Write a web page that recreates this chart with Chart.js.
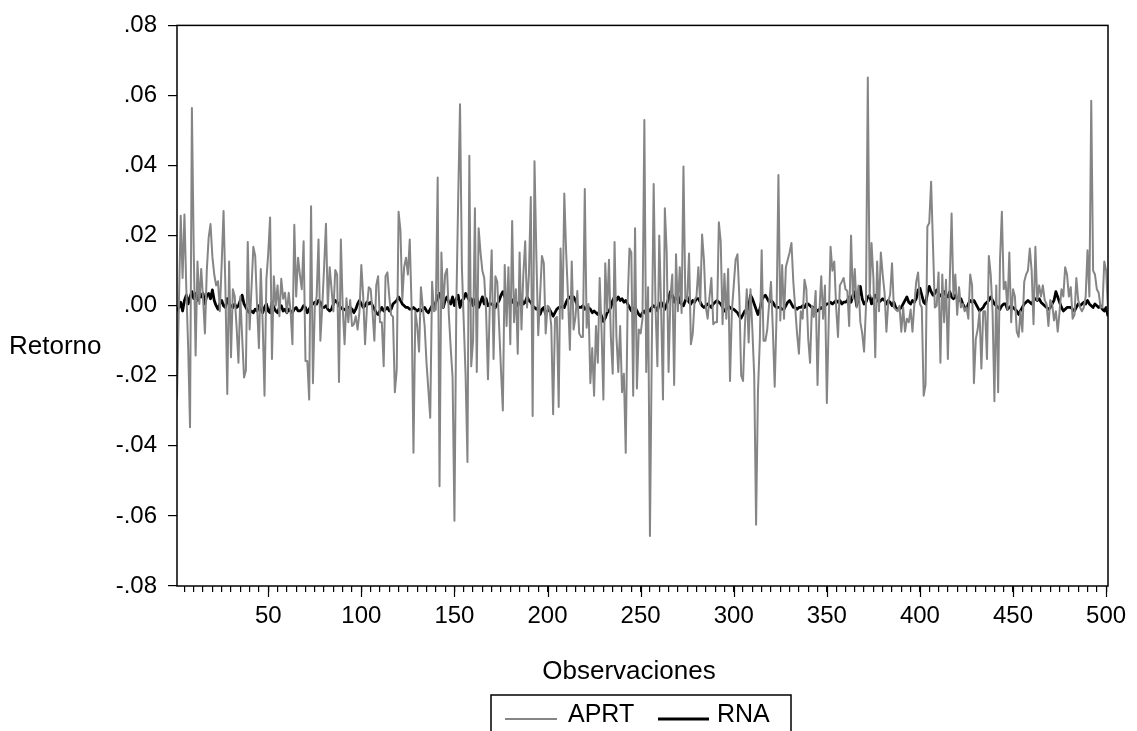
<!DOCTYPE html>
<html>
<head>
<meta charset="utf-8">
<script src="https://cdn.jsdelivr.net/npm/chart.js@4.4.1/dist/chart.umd.min.js"></script>
<style>
  html, body { margin: 0; padding: 0; background: #fff; }
  canvas { display: block; }
</style>
</head>
<body>
<canvas id="grafico" width="1137" height="731"></canvas>
<script>
// numero de observacion 1..501
var observaciones = [];
for (var i = 1; i <= 501; i++) observaciones.push(i);

// retornos, en milesimas (x 1000)
var aprt = [
  -26.8, 0, 25.7, 7.9, 26.0, 5, -12, -34.7, 56.4, 15,
  -14.2, 12.6, 0.5, 10.5, 2, -7.9, 10.0, 19.4, 23.3, 14,
  8.9, 5.8, 7.0, -1.6, 12, 27.0, 5, -25.2, 12.6, -14.7,
  4.7, 2.6, -6, -16.3, 2.6, -9, -20.5, -18.4, 18.2, -6.8,
  5, 16.8, 14.2, 0, -12.1, 10.5, -4.7, -25.7, 7.4, 15,
  25.2, -15.2, 8.4, 0, 5.8, -3, 7.7, 2, 3.7, -2,
  3.7, -1.6, -11.0, 23.1, 2.6, 13.7, 8.9, 4.7, 18.4, -15.8,
  -15.8, -26.8, 28.4, -22.1, -0.5, 2.6, 18.9, -10.0, -0.5, 11.0,
  23.4, -0.5, 11.0, 4.7, -1.6, 10.2, 8.9, -21.8, 18.9, -0.5,
  -11.0, 2.1, -4.7, 1.6, -5.8, -5.3, -3.0, -6.8, -1.6, 11.6,
  2.6, -11.0, -0.5, 5.3, 4.7, -1.6, -10.0, 5.8, 8.4, -4.7,
  -4.7, -17.3, 8.4, 9.5, 2.6, -2.6, -3.2, -24.7, -18.4, 26.8,
  21.5, 1.6, 11.0, 13.7, 8.9, 18.9, -0.5, -42.0, -1.6, -5.8,
  -13.1, 5.3, -0.5, -5.8, -16.3, -24, -32.0, 6.8, -1.6, -1.1,
  36.6, -51.5, 15.2, -0.5, 8.9, 10.5, -2.6, -12.1, -20.5, -61.4,
  -0.5, 30, 57.5, 11.0, -4.7, -20, -44.6, 42.8, -17.3, -10.0,
  27.8, -18.9, 22.1, 15.2, 10.0, 7.9, -1.6, -21.0, 0.5, 15.8,
  -15.2, 8.4, 6.8, -5.8, -18.4, -29.9, 11.6, -5.8, 11.0, -11.0,
  24.2, -4.7, 4.7, -13.7, 15.2, -6.8, 8.9, 18.4, -0.5, 8.9,
  31.0, -31.5, 41.2, 14.2, -8.4, 3, 14.2, 12.1, -7.9, 0,
  -0.5, -5.8, -31.0, -3.7, -3.2, -28.9, 16.3, -3.7, 32.0, 15.2,
  2.6, -12.6, 12.6, -6.8, -3.2, 4.2, -7.9, -8.9, -8.9, 33.3,
  -6.3, 0.5, -22.1, -12.1, -25.7, -5.8, -16.3, 7.9, -6.8, -26.8,
  12.1, -1.6, 13.1, -8.9, -19.4, 18.2, -8.9, -18.9, -5.8, -24.7,
  -19.4, -42.0, 0.5, 16.3, 15.2, -25.7, 22.1, -23.6, -6.8, -7.9,
  -3.7, 53.0, -18.9, 5.3, -65.7, -12, 34.7, -0.5, -17.3, 20.0,
  -0.5, -26.8, 27.8, 15.2, -18.9, 2.6, 8.9, -22.6, 14.7, -1.6,
  11.0, -2.1, 39.7, 2.1, 1.6, 14.9, -11.0, -7.9, 1.6, 2.6,
  11.0, 0.5, 20.3, 13.1, -0.5, -3.7, 2.6, 7.9, -5.3, -4.7,
  -4.7, 23.8, 18.4, -5.3, 9.1, -3.7, 10.5, -21.5, -1.6, 5.8,
  13.1, 14.7, 2.6, -20.0, -21.5, -5.8, 4.7, -10.5, 4.7, -6.8,
  -20, -62.5, -24.7, -10, 15.8, -10.0, -10.0, -6.8, 0.5, 6.8,
  -6.8, -23.1, -2.6, 37.3, -4.2, 11.6, -3.7, 11.0, 13.1, 15.2,
  17.9, 6.8, -0.5, -7.9, -13.7, -1.6, -3.7, 7.4, 4.7, -9.5,
  -16.3, 0, -3.2, 4.2, -22.6, -1.6, 8.4, -3.7, 5.8, -27.8,
  -4.7, 16.8, 10.0, 12.6, -0.5, -8.9, 5.8, 6.8, 7.9, 4.7,
  4.2, -5.8, 20.0, 2.1, 10.5, -0.5, 5.8, -4.7, -7.9, -13.1,
  -0.5, 65.1, 2.6, 17.9, 7.9, -14.7, 12.6, -1.6, 15.2, 8.9,
  3.7, -7.4, 1.1, 3.2, 12.1, -0.5, -1.1, -1.6, 0, -7.4,
  -0.5, -7.4, -3.7, -4.7, -1.1, -7.4, 0.5, 6.8, 9.5, 0.5,
  -0.5, -25.7, -22.6, 22.6, 23.6, 35.4, 17.3, -0.5, 0, 9.5,
  -16.3, 8.9, -4.7, 7.4, -15.2, 6.8, 26.3, 2.6, 8.9, -2.6,
  5.3, -0.5, 0.5, -1.6, -0.5, -3.7, 8.9, 5.8, -22.1, -9.5,
  -6.8, -1.6, -17.9, -1.6, -1.6, -15.2, 14.2, 8.9, -1.6, -27.3,
  5.8, -24.7, 13.1, 26.8, 4.7, 6.8, -1.1, 15.2, -4.7, 4.7,
  2.6, -7.4, -8.9, -1.6, -7.4, 6.8, 8.9, 10.0, 16.3, 10.0,
  -5.3, 16.8, 1.6, 5.8, 2.6, 5.8, 1.6, 0.5, -5.8, 1.6,
  0.5, -4.2, -1.6, -7.4, -1.6, 4.7, 2.6, 11.0, 8.9, 2.6,
  5.3, -3.7, -2.6, 7.9, 1.6, -0.5, -1.6, -0.5, 2.6, 15.8,
  2.6, 58.5, 10.0, 8.9, 4.7, 3.7, -0.5, -0.5, 12.6, 10.0,
  -1.6
];

var rna = [
  -1.5, -0.5, 1.0, -1.5, 1.5, 3.0, 0.5, 2.5, 4.0, 2.0,
  3.5, 1.5, 4.0, 2.5, 3.5, 0.5, 3.0, 3.5, 2.0, 4.5,
  1.5, 0.0, -1.0, 0.5, 1.5, 0.0, -0.5, 2.0, 0.5, 0.0,
  -0.5, 0.5, -0.5, 0.0, 1.5, 3.0, 0.5, -0.5, -1.5, -2.0,
  -1.5, -2.0, -1.0, -1.5, 0.0, -1.0, -2.0, -0.5, 0.5, -1.5,
  -2.0, 1.0, -0.5, -1.5, -2.0, -0.5, 0.0, -1.5, -1.0, -2.0,
  -1.0, -1.5, -2.0, -1.0, -0.5, -1.5, -1.5, -1.0, 0.0, -0.5,
  -2.0, -1.0, 0.0, 0.5, 1.0, 0.5, 1.5, 1.0, -0.5, -0.5,
  0.0, -1.0, -1.5, -1.0, 0.5, 1.5, 1.0, 0.0, -0.5, -1.0,
  -1.0, -1.5, -0.5, -0.5, -1.0, -2.0, -1.0, 0.5, 1.5, 0.5,
  -0.5, 0.0, 1.0, 0.5, 1.0, 0.0, -1.0, -2.0, -2.5, -1.5,
  -0.5, -1.5, -1.0, -0.5, -1.5, -1.0, 0.5, 1.0, 1.5, 2.5,
  1.5, 0.5, 0.0, -0.5, -0.5, -1.0, -1.0, -0.5, -1.0, -1.5,
  -1.0, -1.5, -1.0, -0.5, -1.5, -2.0, -1.0, 0.0, -0.5, 1.0,
  2.5, 3.5, 1.5, -0.5, 1.5, 2.5, 1.0, 0.5, 2.5, 0.0,
  2.0, 3.0, -0.5, 1.5, 2.0, 3.5, 2.5, 1.5, 2.0, 0.0,
  1.5, 2.5, -0.5, 1.0, 2.5, 0.5, 2.0, 0.0, 0.5, 0.5,
  0.0, -0.5, 0.5, 1.5, 3.0, 4.0, 2.5, 1.5, 1.0, 1.5,
  1.0, 2.0, 1.0, 0.0, 1.5, 2.0, 0.5, 1.0, 2.5, 1.5,
  1.0, 0.0, -0.5, -1.0, -0.5, -2.5, -1.0, -0.5, -2.5, -1.5,
  -1.0, -2.0, -3.0, -2.0, -1.0, -0.5, -0.5, 0.0, -0.5, 1.0,
  2.0, 2.5, 1.5, 2.5, 1.5, 0.0, -0.5, -0.5, 0.0, -1.0,
  -0.5, -0.5, -1.0, -2.0, -1.5, -2.0, -2.5, -1.5, -3.0, -4.5,
  -3.5, -2.0, -1.5, -0.5, 1.5, 2.5, 1.5, 2.5, 1.5, 2.0,
  1.0, 1.5, 0.5, -0.5, -1.5, -1.0, -0.5, -1.5, -2.5, -3.0,
  -2.0, -1.5, -2.5, -1.0, -1.5, -0.5, 0.0, -0.5, -1.5, 0.5,
  1.0, 0.0, -1.0, 0.5, 2.0, 4.0, 3.0, 1.0, 2.5, 3.0,
  1.0, 0.5, 0.0, 1.5, 2.5, 1.0, 0.5, 1.5, 1.0, 2.0,
  2.0, 1.0, 0.0, -0.5, 0.0, 0.5, 0.0, -0.5, 0.5, 1.0,
  1.5, 1.0, 0.5, -0.5, -1.5, -1.0, 0.0, -0.5, -1.0, -1.0,
  -1.5, -2.0, -3.0, -3.5, -2.5, -1.5, -1.5, -0.5, 3.0, 2.0,
  0.5, -1.0, -2.5, -1.0, 1.5, 2.5, 3.0, 2.0, 1.0, 1.5,
  1.0, 0.0, -0.5, -0.5, -0.5, -1.0, -1.0, 0.0, 1.0, 1.5,
  0.5, -0.5, -0.5, -1.0, -0.5, -0.5, 0.0, -0.5, 0.5, 0.5,
  0.0, -0.5, -0.5, -1.0, -1.5, -1.0, -0.5, -1.0, 0.0, 0.5,
  0.5, 1.0, 0.5, 1.0, 1.5, 1.0, 1.5, 0.5, 1.0, 1.0,
  1.5, 2.5, 1.0, 3.0, 4.0, 0.0, 2.5, 5.5, 2.0, 0.5,
  1.0, 2.5, 3.0, 0.5, 2.0, 3.0, 2.0, 1.0, 1.5, 2.0,
  1.5, 0.5, 1.5, 1.0, 0.0, 1.0, -0.5, -1.0, -1.0, -0.5,
  0.5, 1.5, 2.5, 1.0, 0.5, 1.5, 1.0, 2.0, 4.5, 5.0,
  3.0, 1.0, 0.5, 3.5, 5.5, 4.0, 3.0, 3.5, 4.5, 3.5,
  3.0, 2.5, 4.0, 3.0, 2.5, 4.0, 2.5, 2.0, 3.0, 2.0,
  1.5, 2.0, 0.5, -0.5, -1.0, 0.5, 1.5, 1.0, 1.5, 0.5,
  -0.5, -1.5, -1.0, -0.5, 0.5, 1.0, 1.5, 2.5, 1.5, 0.5,
  0.0, -0.5, -1.0, 0.0, 0.5, 0.5, -1.0, -0.5, 0.0, -0.5,
  -1.0, -1.5, -2.5, -1.5, -0.5, 0.5, 1.0, 1.5, 1.0, 0.5,
  1.5, 2.0, 1.5, 2.0, 1.0, 0.5, 0.0, -0.5, -1.0, -0.5,
  0.5, 1.5, 4.0, 2.5, 1.0, -0.5, -1.5, -1.0, -0.5, -0.5,
  -0.5, -1.0, -1.5, -0.5, 0.5, 0.0, 0.5, 1.0, 0.5, 1.5,
  0.5, 0.0, -0.5, 0.5, 0.0, -0.5, 0.0, -1.0, -1.5, -0.5,
  -3.0
];

var yTicks = [-0.08, -0.06, -0.04, -0.02, 0, 0.02, 0.04, 0.06, 0.08];
var xLabels = [50, 100, 150, 200, 250, 300, 350, 400, 450, 500];

// marcas menores cada 5 observaciones
var xMinor = [];
for (var t = 5; t <= 500; t += 5) xMinor.push(t);

var fuente = '"Liberation Sans", Arial, sans-serif';

function formatoY(v) {
  if (Math.abs(v) < 1e-9) return '.00';
  return v.toFixed(2).replace('0.', '.');
}

var marco = {
  id: 'marco',
  afterDraw: function (chart) {
    var ctx = chart.ctx, a = chart.chartArea, sx = chart.scales.x;
    ctx.save();
    ctx.strokeStyle = '#000';
    ctx.lineWidth = 1.5;
    ctx.strokeRect(a.left, a.top, a.right - a.left, a.bottom - a.top);

    // marcas mayores mas largas
    ctx.lineWidth = 1.2;
    xLabels.forEach(function (v) {
      var px = Math.round(sx.getPixelForValue(v)) + 0.5;
      ctx.beginPath();
      ctx.moveTo(px, a.bottom);
      ctx.lineTo(px, a.bottom + 11);
      ctx.stroke();
    });

    ctx.fillStyle = '#000';
    ctx.font = '26px ' + fuente;
    ctx.textBaseline = 'middle';
    ctx.textAlign = 'left';
    ctx.fillText('Retorno', 9, 347);
    ctx.textAlign = 'center';
    ctx.fillText('Observaciones', 629, 672);

    // leyenda
    ctx.lineWidth = 1.5;
    ctx.strokeStyle = '#000';
    ctx.strokeRect(491, 695, 300, 60);
    var pos = [{ x1: 505, x2: 557, tx: 568 }, { x1: 658, x2: 709, tx: 717 }];
    ctx.font = '25px ' + fuente;
    ctx.textAlign = 'left';
    chart.data.datasets.forEach(function (ds, i) {
      var p = pos[i];
      ctx.strokeStyle = ds.borderColor;
      ctx.lineWidth = ds.borderWidth;
      ctx.beginPath();
      ctx.moveTo(p.x1, 719);
      ctx.lineTo(p.x2, 719);
      ctx.stroke();
      ctx.fillText(ds.label, p.tx, 715);
    });
    ctx.restore();
  }
};

new Chart(document.getElementById('grafico'), {
  type: 'line',
  data: {
    datasets: [
      {
        label: 'APRT',
        data: observaciones.map(function (o, i) { return { x: o, y: aprt[i] / 1000 }; }),
        borderColor: '#858585',
        borderWidth: 2,
        borderJoinStyle: 'round',
        pointRadius: 0,
        tension: 0,
        order: 0
      },
      {
        label: 'RNA',
        data: observaciones.map(function (o, i) { return { x: o, y: rna[i] / 1000 }; }),
        borderColor: '#000000',
        borderWidth: 2.8,
        borderJoinStyle: 'round',
        pointRadius: 0,
        tension: 0,
        order: 1
      }
    ]
  },
  options: {
    responsive: false,
    animation: false,
    layout: { padding: { top: 23, right: 29, left: 0, bottom: 0 } },
    plugins: { legend: { display: false }, tooltip: { enabled: false } },
    scales: {
      x: {
        type: 'linear',
        min: 1,
        max: 501,
        afterBuildTicks: function (s) { s.ticks = xMinor.map(function (v) { return { value: v }; }); },
        afterFit: function (s) { s.height = 145; },
        ticks: {
          autoSkip: false,
          maxRotation: 0,
          padding: 10,
          color: '#000',
          font: { family: fuente, size: 24 },
          callback: function (v) { return xLabels.indexOf(v) >= 0 ? String(v) : ''; }
        },
        grid: { drawOnChartArea: false, tickLength: 6, color: '#000', lineWidth: 1.2 },
        border: { display: false }
      },
      y: {
        min: -0.08,
        max: 0.08,
        afterBuildTicks: function (s) { s.ticks = yTicks.map(function (v) { return { value: v }; }); },
        afterFit: function (s) { s.width = 177; },
        ticks: {
          padding: 11,
          color: '#000',
          font: { family: fuente, size: 24 },
          callback: formatoY
        },
        grid: { drawOnChartArea: false, tickLength: 9, color: '#000', lineWidth: 1.2 },
        border: { display: false }
      }
    }
  },
  plugins: [marco]
});
</script>
</body>
</html>
